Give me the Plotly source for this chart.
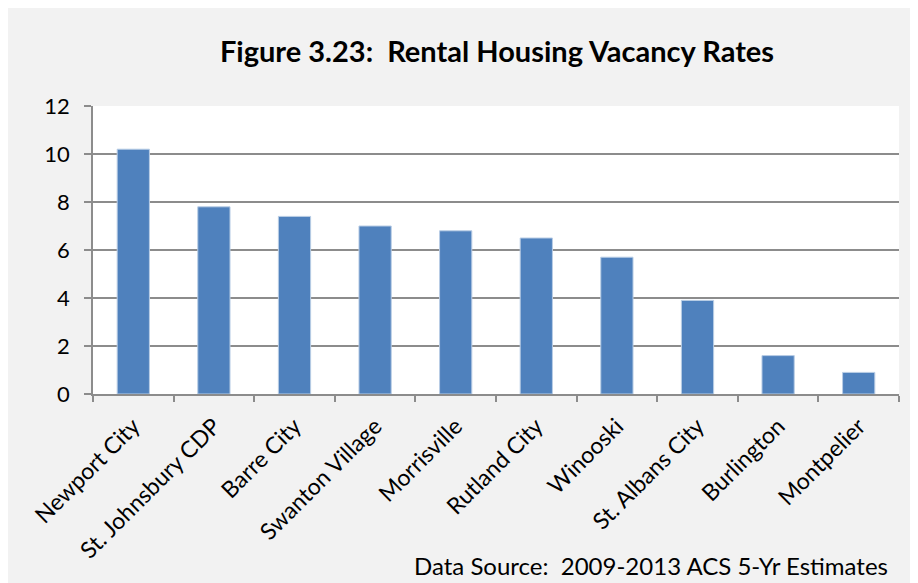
import plotly.graph_objects as go


##############################################################
# Data
##############################################################

places = [
    "Newport City",
    "St. Johnsbury CDP",
    "Barre City",
    "Swanton Village",
    "Morrisville",
    "Rutland City",
    "Winooski",
    "St. Albans City",
    "Burlington",
    "Montpelier"
]

vacancy_rates = [10.2, 7.8, 7.4, 7.0, 6.8, 6.5, 5.7, 3.9, 1.6, 0.9]

y_ticks = [0, 2, 4, 6, 8, 10, 12]


##############################################################
# Chart
##############################################################

FONT = "Lato, 'Open Sans', sans-serif"
GRID = "#8c8c8c"

# the page body adds an 8px margin, so the figure is 8px smaller
W, H = 910, 575
L, R, T, B = 85, 19, 98, 189
PW, PH = W - L - R, H - T - B

fig = go.Figure(

    go.Bar(
        x=places,
        y=vacancy_rates,
        marker=dict(
            color="#4f81bd",
            line=dict(color="#b9cde5", width=1)
        ),
        hoverinfo="x+y"
    )

)

fig.update_layout(

    width=W,
    height=H,

    margin=dict(l=L, r=R, t=T, b=B),

    paper_bgcolor="white",
    plot_bgcolor="white",

    bargap=0.6,
    showlegend=False,

    font=dict(family=FONT, color="black", size=23),

    title=dict(
        text="<b>Figure 3.23:  Rental Housing Vacancy Rates</b>",
        x=489 / W,
        xanchor="center",
        y=1 - 44 / H,
        yanchor="middle",
        font=dict(family=FONT, size=29, color="black")
    ),

    shapes=[
        # grey chart panel
        dict(
            type="rect", xref="paper", yref="paper", layer="below",
            x0=-L / PW, x1=(W - L) / PW,
            y0=-B / PH, y1=(H - T - 4) / PH,
            fillcolor="#f2f2f2", line=dict(width=0)
        ),
        # white plot area
        dict(
            type="rect", xref="paper", yref="paper", layer="below",
            x0=0, x1=1, y0=0, y1=1,
            fillcolor="white", line=dict(width=0)
        )
    ],

    annotations=[
        dict(
            text="Data Source:  2009-2013 ACS 5-Yr Estimates",
            xref="paper", yref="paper",
            x=(882 - L) / PW, y=(PH + T - 557) / PH,
            xanchor="right", yanchor="middle",
            showarrow=False,
            font=dict(family=FONT, size=24, color="black")
        )
    ]

)

fig.update_yaxes(
    range=[0, 12],
    tickvals=y_ticks,
    showgrid=True,
    gridcolor=GRID,
    gridwidth=1.5,
    showline=True,
    linecolor=GRID,
    linewidth=1.5,
    ticks="outside",
    ticklen=7,
    tickcolor=GRID,
    tickwidth=1.5,
    zeroline=False,
    tickfont=dict(size=22),
    ticklabelstandoff=10
)

fig.update_xaxes(
    showline=True,
    linecolor=GRID,
    linewidth=1.5,
    ticks="outside",
    tickson="boundaries",
    ticklen=6,
    tickcolor=GRID,
    tickwidth=1.5,
    tickangle=-45,
    tickfont=dict(size=23),
    ticklabelstandoff=8,
    showgrid=False
)

fig.write_html("out.html")
